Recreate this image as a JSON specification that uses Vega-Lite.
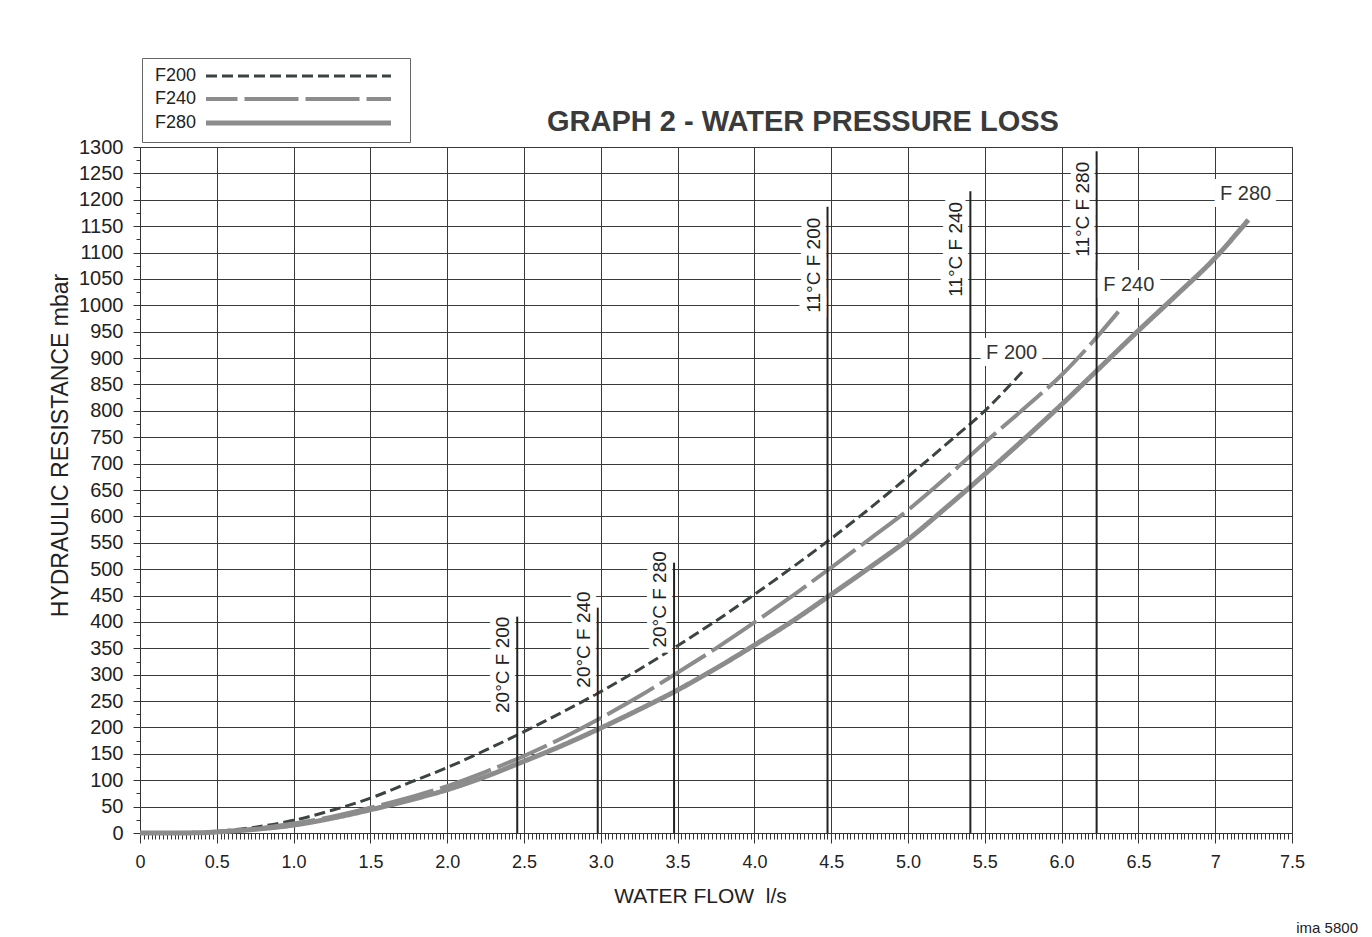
{
  "$schema": "https://vega.github.io/schema/vega-lite/v6.json",
  "width": 1152,
  "height": 686,
  "autosize": {"type": "none"},
  "padding": {"left": 140, "top": 147, "right": 80, "bottom": 104},
  "background": "white",
  "title": {"text": "GRAPH 2 - WATER PRESSURE LOSS", "fontSize": 29, "fontWeight": "bold", "color": "#3a3a3a", "anchor": "middle", "frame": "group", "dx": 87, "dy": 80, "offset": 1, "font": "Liberation Sans"},
  "config": {
    "font": "Liberation Sans",
    "view": {"stroke": "#333333", "strokeWidth": 1}
  },
  "datasets": {
    "curves": [
      {"series": "F200", "flow": 0, "loss": 0}, {"series": "F200", "flow": 0.2, "loss": 0}, {"series": "F200", "flow": 0.4, "loss": 0.5}, {"series": "F200", "flow": 0.5, "loss": 3}, {"series": "F200", "flow": 0.75, "loss": 11}, {"series": "F200", "flow": 1.0, "loss": 24}, {"series": "F200", "flow": 1.25, "loss": 43}, {"series": "F200", "flow": 1.5, "loss": 66}, {"series": "F200", "flow": 1.75, "loss": 95}, {"series": "F200", "flow": 2.0, "loss": 124}, {"series": "F200", "flow": 2.25, "loss": 157}, {"series": "F200", "flow": 2.5, "loss": 192}, {"series": "F200", "flow": 2.75, "loss": 229}, {"series": "F200", "flow": 3.0, "loss": 268}, {"series": "F200", "flow": 3.25, "loss": 310}, {"series": "F200", "flow": 3.5, "loss": 355}, {"series": "F200", "flow": 3.75, "loss": 402}, {"series": "F200", "flow": 4.0, "loss": 452}, {"series": "F200", "flow": 4.25, "loss": 504}, {"series": "F200", "flow": 4.5, "loss": 558}, {"series": "F200", "flow": 4.75, "loss": 615}, {"series": "F200", "flow": 5.0, "loss": 675}, {"series": "F200", "flow": 5.25, "loss": 737}, {"series": "F200", "flow": 5.5, "loss": 800}, {"series": "F200", "flow": 5.76, "loss": 879},
      {"series": "F240", "flow": 0, "loss": 0}, {"series": "F240", "flow": 0.2, "loss": 0}, {"series": "F240", "flow": 0.4, "loss": 0.5}, {"series": "F240", "flow": 0.5, "loss": 2}, {"series": "F240", "flow": 0.75, "loss": 8}, {"series": "F240", "flow": 1.0, "loss": 18}, {"series": "F240", "flow": 1.25, "loss": 31}, {"series": "F240", "flow": 1.5, "loss": 48}, {"series": "F240", "flow": 1.75, "loss": 67}, {"series": "F240", "flow": 2.0, "loss": 89}, {"series": "F240", "flow": 2.25, "loss": 116}, {"series": "F240", "flow": 2.5, "loss": 146}, {"series": "F240", "flow": 2.75, "loss": 180}, {"series": "F240", "flow": 3.0, "loss": 218}, {"series": "F240", "flow": 3.25, "loss": 259}, {"series": "F240", "flow": 3.5, "loss": 304}, {"series": "F240", "flow": 3.75, "loss": 350}, {"series": "F240", "flow": 4.0, "loss": 399}, {"series": "F240", "flow": 4.25, "loss": 450}, {"series": "F240", "flow": 4.5, "loss": 503}, {"series": "F240", "flow": 4.75, "loss": 557}, {"series": "F240", "flow": 5.0, "loss": 612}, {"series": "F240", "flow": 5.25, "loss": 674}, {"series": "F240", "flow": 5.5, "loss": 740}, {"series": "F240", "flow": 5.75, "loss": 803}, {"series": "F240", "flow": 6.0, "loss": 868}, {"series": "F240", "flow": 6.2, "loss": 930}, {"series": "F240", "flow": 6.37, "loss": 988},
      {"series": "F280", "flow": 0, "loss": 0}, {"series": "F280", "flow": 0.2, "loss": 0}, {"series": "F280", "flow": 0.4, "loss": 0.5}, {"series": "F280", "flow": 0.5, "loss": 2}, {"series": "F280", "flow": 0.75, "loss": 7}, {"series": "F280", "flow": 1.0, "loss": 15}, {"series": "F280", "flow": 1.25, "loss": 28}, {"series": "F280", "flow": 1.5, "loss": 44}, {"series": "F280", "flow": 1.75, "loss": 62}, {"series": "F280", "flow": 2.0, "loss": 82}, {"series": "F280", "flow": 2.25, "loss": 107}, {"series": "F280", "flow": 2.5, "loss": 136}, {"series": "F280", "flow": 2.75, "loss": 166}, {"series": "F280", "flow": 3.0, "loss": 199}, {"series": "F280", "flow": 3.25, "loss": 234}, {"series": "F280", "flow": 3.5, "loss": 271}, {"series": "F280", "flow": 3.75, "loss": 312}, {"series": "F280", "flow": 4.0, "loss": 356}, {"series": "F280", "flow": 4.25, "loss": 402}, {"series": "F280", "flow": 4.5, "loss": 452}, {"series": "F280", "flow": 4.75, "loss": 503}, {"series": "F280", "flow": 5.0, "loss": 556}, {"series": "F280", "flow": 5.25, "loss": 617}, {"series": "F280", "flow": 5.5, "loss": 680}, {"series": "F280", "flow": 5.75, "loss": 745}, {"series": "F280", "flow": 6.0, "loss": 812}, {"series": "F280", "flow": 6.25, "loss": 882}, {"series": "F280", "flow": 6.5, "loss": 952}, {"series": "F280", "flow": 6.75, "loss": 1020}, {"series": "F280", "flow": 7.0, "loss": 1090}, {"series": "F280", "flow": 7.216, "loss": 1162}
    ],
    "markers": [
      {"flow": 2.456, "top": 410, "bottom": 0, "labelTop": 410, "label": "20°C F 200"},
      {"flow": 2.98, "top": 427, "bottom": 0, "labelTop": 458, "label": "20°C F 240"},
      {"flow": 3.477, "top": 512, "bottom": 0, "labelTop": 534, "label": "20°C F 280"},
      {"flow": 4.476, "top": 1187, "bottom": 0, "labelTop": 1166, "label": "11°C F 200"},
      {"flow": 5.406, "top": 1216, "bottom": 0, "labelTop": 1196, "label": "11°C F 240"},
      {"flow": 6.228, "top": 1292, "bottom": 0, "labelTop": 1272, "label": "11°C F 280"}
    ],
    "curveLabels": [
      {"label": "F 200", "flow": 5.675, "loss": 910},
      {"label": "F 240", "flow": 6.437, "loss": 1038},
      {"label": "F 280", "flow": 7.198, "loss": 1211}
    ],
    "note": [{"text": "ima 5800", "flow": 7.5, "loss": 0}]
  },
  "layer": [
    {
      "data": {"name": "curves"},
      "mark": {"type": "line", "interpolate": "monotone", "strokeCap": "butt"},
      "encoding": {
        "x": {
          "field": "flow", "type": "quantitative",
          "scale": {"domain": [0, 7.5], "nice": false, "zero": false},
          "axis": {
            "orient": "bottom",
            "title": "WATER FLOW\u00a0\u00a0l/s",
            "tickCount": 1000,
            "values": [0,0.025,0.05,0.075,0.1,0.125,0.15,0.175,0.2,0.225,0.25,0.275,0.3,0.325,0.35,0.375,0.4,0.425,0.45,0.475,0.5,0.525,0.55,0.575,0.6,0.625,0.65,0.675,0.7,0.725,0.75,0.775,0.8,0.825,0.85,0.875,0.9,0.925,0.95,0.975,
              1,1.025,1.05,1.075,1.1,1.125,1.15,1.175,1.2,1.225,1.25,1.275,1.3,1.325,1.35,1.375,1.4,1.425,1.45,1.475,1.5,1.525,1.55,1.575,1.6,1.625,1.65,1.675,1.7,1.725,1.75,1.775,1.8,1.825,1.85,1.875,1.9,1.925,1.95,1.975,
              2,2.025,2.05,2.075,2.1,2.125,2.15,2.175,2.2,2.225,2.25,2.275,2.3,2.325,2.35,2.375,2.4,2.425,2.45,2.475,2.5,2.525,2.55,2.575,2.6,2.625,2.65,2.675,2.7,2.725,2.75,2.775,2.8,2.825,2.85,2.875,2.9,2.925,2.95,2.975,
              3,3.025,3.05,3.075,3.1,3.125,3.15,3.175,3.2,3.225,3.25,3.275,3.3,3.325,3.35,3.375,3.4,3.425,3.45,3.475,3.5,3.525,3.55,3.575,3.6,3.625,3.65,3.675,3.7,3.725,3.75,3.775,3.8,3.825,3.85,3.875,3.9,3.925,3.95,3.975,
              4,4.025,4.05,4.075,4.1,4.125,4.15,4.175,4.2,4.225,4.25,4.275,4.3,4.325,4.35,4.375,4.4,4.425,4.45,4.475,4.5,4.525,4.55,4.575,4.6,4.625,4.65,4.675,4.7,4.725,4.75,4.775,4.8,4.825,4.85,4.875,4.9,4.925,4.95,4.975,
              5,5.025,5.05,5.075,5.1,5.125,5.15,5.175,5.2,5.225,5.25,5.275,5.3,5.325,5.35,5.375,5.4,5.425,5.45,5.475,5.5,5.525,5.55,5.575,5.6,5.625,5.65,5.675,5.7,5.725,5.75,5.775,5.8,5.825,5.85,5.875,5.9,5.925,5.95,5.975,
              6,6.025,6.05,6.075,6.1,6.125,6.15,6.175,6.2,6.225,6.25,6.275,6.3,6.325,6.35,6.375,6.4,6.425,6.45,6.475,6.5,6.525,6.55,6.575,6.6,6.625,6.65,6.675,6.7,6.725,6.75,6.775,6.8,6.825,6.85,6.875,6.9,6.925,6.95,6.975,
              7,7.025,7.05,7.075,7.1,7.125,7.15,7.175,7.2,7.225,7.25,7.275,7.3,7.325,7.35,7.375,7.4,7.425,7.45,7.475,7.5],
            "grid": true,
            "gridColor": "#3a3a3a",
            "gridWidth": 1,
            "gridOpacity": {"condition": {"test": "abs(datum.value*2 - round(datum.value*2)) < 0.001", "value": 1}, "value": 0},
            "tickSize": {"condition": {"test": "abs(datum.value*2 - round(datum.value*2)) < 0.001", "value": 10}, "value": 6},
            "tickColor": "#333333",
            "domainColor": "#333333",
            "labelExpr": "abs(datum.value*2 - round(datum.value*2)) < 0.001 ? (datum.value == 0 ? '0' : (datum.value == 7 ? '7' : (datum.value == 7.5 ? '7.5' : format(datum.value, '.1f')))) : ''",
            "labelOverlap": false,
            "labelFlush": false,
            "labelFontSize": 18,
            "labelColor": "#222222",
            "labelPadding": 10,
            "titleFontSize": 21,
            "titleFontWeight": "normal",
            "titleColor": "#222222",
            "titleX": 560,
            "titleY": 69,
            "titleBaseline": "alphabetic",
            "titleAlign": "center"
          }
        },
        "y": {
          "field": "loss", "type": "quantitative",
          "scale": {"domain": [0, 1300], "nice": false},
          "axis": {
            "title": "HYDRAULIC RESISTANCE mbar",
            "tickCount": 1000,
            "values": [0,25,50,75,100,125,150,175,200,225,250,275,300,325,350,375,400,425,450,475,500,525,550,575,600,625,650,675,700,725,750,775,800,825,850,875,900,925,950,975,1000,1025,1050,1075,1100,1125,1150,1175,1200,1225,1250,1275,1300],
            "grid": true,
            "gridColor": "#3a3a3a",
            "gridWidth": 1,
            "gridOpacity": {"condition": {"test": "datum.value % 50 === 0", "value": 1}, "value": 0},
            "tickSize": {"condition": {"test": "datum.value % 50 === 0", "value": 7}, "value": 4},
            "tickColor": "#333333",
            "domainColor": "#333333",
            "labelExpr": "datum.value % 50 === 0 ? '' + datum.value : ''",
            "labelOverlap": false,
            "labelFlush": false,
            "labelFontSize": 20,
            "labelColor": "#222222",
            "labelPadding": 10,
            "titleFontSize": 23,
            "titleFontWeight": "normal",
            "titleColor": "#222222",
            "titleAngle": 270,
            "titleX": -73,
            "titleY": 298,
            "titleBaseline": "alphabetic",
            "titleAlign": "center"
          }
        },
        "stroke": {
          "field": "series", "type": "nominal",
          "scale": {"domain": ["F200", "F240", "F280"], "range": ["#3b4343", "#8c8c8c", "#8c8c8c"]},
          "legend": {
            "orient": "none", "legendX": 2, "legendY": -89, "title": null, "padding": 9,
            "strokeColor": "#666666", "labelFontSize": 18, "labelColor": "#222222", "labelFont": "Liberation Sans",
            "symbolType": "M-18.5,0H18.5", "symbolSize": 100, "rowPadding": 5,
            "encode": {
              "symbols": {"update": {
                "x": {"value": 147.5},
                "fill": {"value": "transparent"},
                "size": {"value": 100},
                "strokeWidth": {"signal": "datum.value === 'F200' ? 4 : 6"},
                "strokeDash": {"signal": "datum.value === 'F200' ? [16.5, 5] : (datum.value === 'F240' ? [57.5, 17.5] : [1, 0])"},
                "strokeDashOffset": {"signal": "datum.value === 'F240' ? 22.5 : 0"}
              }},
              "labels": {"update": {"x": {"value": 4}, "align": {"value": "left"}}}
            }
          }
        },
        "strokeDash": {
          "field": "series", "type": "nominal",
          "scale": {"domain": ["F200", "F240", "F280"], "range": [[11, 5], [54, 7], [1, 0]]}
        },
        "strokeWidth": {
          "field": "series", "type": "nominal",
          "scale": {"domain": ["F200", "F240", "F280"], "range": [3, 5, 5]}
        }
      }
    },
    {
      "data": {"name": "markers"},
      "mark": {"type": "rule", "color": "#222222", "strokeWidth": 2},
      "encoding": {
        "x": {"field": "flow", "type": "quantitative"},
        "y": {"field": "top", "type": "quantitative"},
        "y2": {"field": "bottom"}
      }
    },
    {
      "data": {"name": "markers"},
      "mark": {"type": "text", "angle": 270, "align": "right", "baseline": "alphabetic", "dy": -8, "fontSize": 19, "font": "Liberation Sans", "stroke": "white", "strokeWidth": 12, "strokeJoin": "miter", "fill": "white"},
      "encoding": {
        "x": {"field": "flow", "type": "quantitative"},
        "y": {"field": "labelTop", "type": "quantitative"},
        "text": {"field": "label", "type": "nominal"}
      }
    },
    {
      "data": {"name": "markers"},
      "mark": {"type": "text", "angle": 270, "align": "right", "baseline": "alphabetic", "dy": -8, "fontSize": 19, "font": "Liberation Sans", "color": "#222222"},
      "encoding": {
        "x": {"field": "flow", "type": "quantitative"},
        "y": {"field": "labelTop", "type": "quantitative"},
        "text": {"field": "label", "type": "nominal"}
      }
    },
    {
      "data": {"name": "curveLabels"},
      "mark": {"type": "text", "align": "center", "baseline": "middle", "fontSize": 20, "font": "Liberation Sans", "stroke": "white", "strokeWidth": 14, "strokeJoin": "miter", "fill": "white"},
      "encoding": {
        "x": {"field": "flow", "type": "quantitative"},
        "y": {"field": "loss", "type": "quantitative"},
        "text": {"field": "label", "type": "nominal"}
      }
    },
    {
      "data": {"name": "curveLabels"},
      "mark": {"type": "text", "align": "center", "baseline": "middle", "fontSize": 20, "font": "Liberation Sans", "color": "#333333"},
      "encoding": {
        "x": {"field": "flow", "type": "quantitative"},
        "y": {"field": "loss", "type": "quantitative"},
        "text": {"field": "label", "type": "nominal"}
      }
    },
    {
      "data": {"name": "note"},
      "mark": {"type": "text", "align": "right", "baseline": "alphabetic", "dx": 66, "dy": 100, "fontSize": 15, "font": "Liberation Sans", "color": "#222222"},
      "encoding": {
        "x": {"field": "flow", "type": "quantitative"},
        "y": {"field": "loss", "type": "quantitative"},
        "text": {"field": "text", "type": "nominal"}
      }
    }
  ]
}
